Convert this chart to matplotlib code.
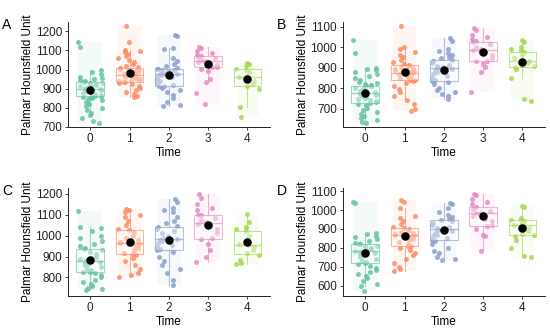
import numpy as np
import matplotlib
matplotlib.use("Agg")
from matplotlib import pyplot as plt
from matplotlib.patches import Rectangle
from matplotlib.colors import to_rgba

plt.rcParams['font.family'] = ['Liberation Sans', 'DejaVu Sans']

times = [0, 1, 2, 3, 4]
colors = ['#66C2A5', '#FC8D62', '#8DA0CB', '#E78AC3', '#A6D854']

# Panel A: individual measurements per time point
a0 = [1145, 1120, 995, 985, 975, 960, 955, 950, 945, 940, 935, 930, 928, 925, 920, 915, 912, 910,
      905, 902, 900, 900, 898, 895, 892, 890, 885, 880, 875, 870, 865, 862, 860, 858, 855, 850,
      845, 840, 830, 820, 810, 800, 790, 775, 760, 745, 730, 720]
a1 = [1225, 1145, 1100, 1095, 1090, 1080, 1070, 1060, 1050, 1040, 1030, 1020, 1012, 1008, 1005,
      1000, 995, 990, 985, 980, 975, 972, 969, 966, 962, 958, 952, 948, 944, 940, 936, 934, 930,
      925, 915, 905, 895, 885, 870, 860, 855]
a2 = [1180, 1175, 1110, 1105, 1060, 1045, 1030, 1020, 1010, 1005, 1003, 1000, 995, 990, 985, 982,
      979, 976, 972, 968, 960, 950, 940, 930, 920, 916, 912, 905, 895, 880, 865, 850, 830, 815, 810]
a3 = [1120, 1110, 1095, 1085, 1075, 1070, 1065, 1058, 1050, 1046, 1044, 1040, 1035, 1025, 1015,
      1012, 1005, 990, 950, 935, 875, 820]
a4 = [1035, 1030, 1020, 1005, 1000, 985, 965, 960, 955, 940, 925, 915, 900, 805, 750]

# Panel B
b0 = [1035, 970, 900, 895, 890, 880, 870, 860, 850, 840, 830, 825, 820, 815, 812, 808, 800, 795,
      790, 785, 780, 778, 775, 772, 768, 762, 755, 750, 745, 740, 735, 730, 727, 722, 715, 705,
      695, 685, 675, 665, 655, 645, 635, 630]
b1 = [1105, 1000, 990, 975, 960, 950, 940, 930, 920, 915, 910, 905, 900, 895, 890, 885, 880, 877,
      875, 872, 868, 862, 858, 852, 848, 842, 840, 835, 825, 810, 795, 780, 760, 740, 720, 700, 690]
b2 = [1045, 1030, 990, 980, 970, 960, 950, 945, 939, 935, 925, 915, 910, 905, 900, 898, 895, 890,
      880, 870, 860, 850, 840, 834, 830, 820, 800, 790, 780, 770, 760, 745]
b3 = [1095, 1085, 1060, 1050, 1040, 1030, 1024, 1015, 1000, 990, 987, 985, 975, 960, 945, 935,
      931, 920, 905, 880, 780]
b4 = [1035, 1025, 1000, 990, 985, 975, 960, 945, 935, 931, 925, 915, 910, 905, 895, 850, 745, 735]

# Panel C
c0 = [1115, 1040, 1035, 1020, 1000, 990, 975, 960, 950, 940, 935, 930, 920, 910, 900, 895, 890,
      885, 880, 878, 875, 870, 865, 860, 850, 840, 835, 828, 825, 820, 810, 800, 790, 780, 770,
      760, 750, 745, 740]
c1 = [1125, 1120, 1110, 1100, 1090, 1070, 1050, 1030, 1025, 1015, 1000, 990, 980, 970, 965, 962,
      958, 950, 940, 930, 915, 910, 905, 895, 880, 860, 840, 820, 810, 800]
c2 = [1175, 1160, 1130, 1120, 1110, 1090, 1070, 1060, 1045, 1041, 1030, 1020, 1010, 1000, 990,
      986, 984, 980, 975, 965, 955, 945, 935, 930, 920, 900, 880, 860, 840, 820, 790, 765]
c3 = [1200, 1180, 1150, 1130, 1120, 1100, 1097, 1085, 1075, 1065, 1060, 1055, 1045, 1030, 1010,
      990, 983, 960, 930, 900, 875]
c4 = [1105, 1065, 1040, 1030, 1021, 1000, 975, 960, 954, 945, 930, 915, 905, 885, 870, 865]

# Panel D
d0 = [1045, 1035, 880, 875, 865, 855, 845, 835, 825, 820, 818, 812, 808, 800, 795, 790, 785, 782,
      780, 776, 770, 765, 760, 750, 740, 730, 725, 722, 715, 705, 695, 685, 670, 660, 650, 640,
      625, 610, 595, 570]
d1 = [1055, 1045, 1010, 970, 960, 940, 925, 910, 903, 898, 890, 885, 880, 875, 870, 867, 862, 855,
      848, 840, 830, 820, 812, 809, 800, 790, 775, 760, 740, 720, 700, 690, 675]
d2 = [1040, 1030, 1010, 990, 975, 965, 955, 950, 940, 930, 920, 910, 905, 900, 898, 895, 888, 880,
      870, 860, 850, 840, 835, 820, 800, 785, 770, 750, 740, 735]
d3 = [1085, 1080, 1060, 1045, 1030, 1014, 1005, 995, 985, 982, 978, 970, 955, 940, 920, 915, 900,
      870, 865, 785]
d4 = [1020, 1015, 960, 950, 945, 940, 930, 921, 915, 905, 890, 875, 866, 860, 840, 800, 755, 750]

# box summaries (Q1, median, Q3, mean)
a_q1 = [860, 934, 916, 1012, 916]
a_med = [900, 969, 979, 1044, 960]
a_q3 = [935, 1008, 1003, 1070, 1003]
a_mean = [893, 980, 969, 1030, 948]

b_q1 = [727, 840, 834, 931, 905]
b_med = [775, 875, 900, 987, 931]
b_q3 = [812, 915, 939, 1024, 976]
b_mean = [775, 878, 890, 979, 927]

c_q1 = [825, 910, 930, 983, 914]
c_med = [879, 965, 984, 1060, 954]
c_q3 = [938, 1025, 1041, 1097, 1021]
c_mean = [883, 968, 981, 1049, 967]

d_q1 = [722, 809, 840, 915, 866]
d_med = [782, 870, 900, 982, 921]
d_q3 = [818, 903, 950, 1014, 950]
d_mean = [775, 860, 893, 971, 907]

panels = [
    ('A', [a0, a1, a2, a3, a4], a_q1, a_med, a_q3, a_mean, (700, 1250), [700, 800, 900, 1000, 1100, 1200]),
    ('B', [b0, b1, b2, b3, b4], b_q1, b_med, b_q3, b_mean, (610, 1125), [700, 800, 900, 1000, 1100]),
    ('C', [c0, c1, c2, c3, c4], c_q1, c_med, c_q3, c_mean, (712, 1225), [800, 900, 1000, 1100, 1200]),
    ('D', [d0, d1, d2, d3, d4], d_q1, d_med, d_q3, d_mean, (545, 1115), [600, 700, 800, 900, 1000, 1100]),
]

positions = [
    [0.124, 0.620, 0.366, 0.315],
    [0.624, 0.620, 0.366, 0.315],
    [0.124, 0.114, 0.366, 0.322],
    [0.624, 0.114, 0.366, 0.322],
]

fig = plt.figure(figsize=(5.5, 3.34), dpi=100)

for (letter, groups, q1, med, q3, mean, ylim, yticks), pos in zip(panels, positions):
    ax = fig.add_axes(pos)
    stats = []
    for i, pts in enumerate(groups):
        pts = np.array(pts)
        iqr = q3[i] - q1[i]
        hi = pts[pts <= q3[i] + 1.5 * iqr].max()
        lo = pts[pts >= q1[i] - 1.5 * iqr].min()
        stats.append(dict(q1=q1[i], med=med[i], q3=q3[i], mean=mean[i],
                          whislo=lo, whishi=hi, fliers=[]))
        # faint band behind the points
        ax.add_patch(Rectangle((times[i] - 0.3, pts.min()), 0.6, pts.max() - pts.min(),
                               color=colors[i], alpha=0.07, lw=0, zorder=0))
        # deterministic jitter (hash-like spread)
        k = np.arange(len(pts))
        jit = ((k * k * 0.3819 + k * 0.7071 + 0.37 * i) % 1 - 0.5) * 0.62
        ax.scatter(times[i] + jit, pts, s=13, color=colors[i], alpha=0.85, lw=0, zorder=2)

    bp = ax.bxp(stats, positions=times, widths=0.7, patch_artist=True, showfliers=False,
                showcaps=False, manage_ticks=False)
    for i in range(5):
        edge = to_rgba(colors[i], 0.65)
        bp['boxes'][i].set(facecolor=(1, 1, 1, 0.4), edgecolor=edge, linewidth=0.8, zorder=3)
        bp['medians'][i].set(color=edge, linewidth=1.0, zorder=4)
        for w in bp['whiskers'][2 * i:2 * i + 2]:
            w.set(color=edge, linewidth=0.8, zorder=1)
    ax.scatter(times, mean, s=26, color='black', zorder=5)

    ax.set_xlim(-0.56, 4.56)
    ax.set_ylim(*ylim)
    ax.set_xticks(times)
    ax.set_yticks(yticks)
    ax.tick_params(labelsize=8.5, length=2.5, width=0.6, pad=2, colors='#222222')
    for s in ['top', 'right']:
        ax.spines[s].set_visible(False)
    for s in ['left', 'bottom']:
        ax.spines[s].set_linewidth(0.7)
        ax.spines[s].set_color('#222222')
    ax.set_xlabel('Time', fontsize=8.5, labelpad=1)
    ax.set_ylabel('Palmar Hounsfield Unit', fontsize=8.5, labelpad=1)
    ax.text(-0.33, 1.04, letter, transform=ax.transAxes, fontsize=10, ha='left', va='top')

fig.savefig('out.png', dpi=100)
